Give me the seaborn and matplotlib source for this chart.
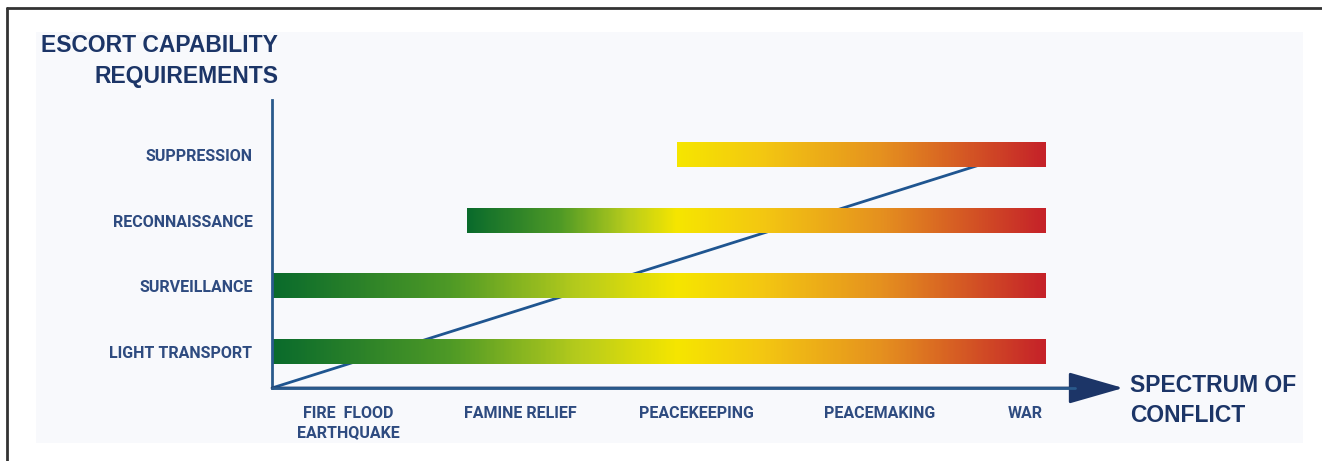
import matplotlib
matplotlib.use("Agg")
import matplotlib.pyplot as plt
import seaborn as sns
import numpy as np
import pandas as pd
from matplotlib.colors import LinearSegmentedColormap
from matplotlib.patches import Rectangle
from matplotlib.lines import Line2D

# capability bars (spectrum units 0..10 along the x axis)
capabilities = ['LIGHT TRANSPORT', 'SURVEILLANCE', 'RECONNAISSANCE', 'SUPPRESSION']
bar_start = [0.0, 0.0, 2.43, 5.04]
bar_end = [9.63, 9.63, 9.63, 9.63]

# spectrum of conflict ticks
conflict_labels = ['FIRE  FLOOD\nEARTHQUAKE', 'FAMINE RELIEF', 'PEACEKEEPING', 'PEACEMAKING', 'WAR']
conflict_pos = [0.95, 3.09, 5.29, 7.57, 9.38]
yellow_at = 5.04  # where bars turn yellow (peacekeeping)

# rising requirement line
trend_x = [0.0, 9.2]
trend_y = [-0.55, 3.0]

navy = '#1c3567'
label_col = '#2e4b80'
axis_col = '#2a5a8c'

sns.set_style('white')
plt.rcParams['font.family'] = ['Roboto', 'DejaVu Sans']

fig = plt.figure(figsize=(13.22, 4.61), dpi=100)
fig.patch.set_facecolor('white')

# pale panel + frame lines
fig.patches.append(Rectangle((36 / 1322, 18 / 461), (1303 - 36) / 1322, (443 - 32) / 461,
                             transform=fig.transFigure, facecolor='#f8f9fc', edgecolor='none', zorder=-5))
fig.lines.append(Line2D([7 / 1322, 1], [1 - 8 / 461, 1 - 8 / 461], transform=fig.transFigure,
                        color='#333333', lw=2, zorder=-4))
fig.lines.append(Line2D([7 / 1322, 7 / 1322], [0, 1 - 8 / 461], transform=fig.transFigure,
                        color='#333333', lw=2, zorder=-4))

ax = fig.add_axes([272 / 1322, 73 / 461, 803 / 1322, 288 / 461])
ax.set_facecolor('none')

cmap = LinearSegmentedColormap.from_list('conflict', [
    (0.0, '#0a6b2c'), (0.22, '#4f9a26'), (0.38, '#b7cc1c'), (0.5, '#f6e600'),
    (0.62, '#f3c612'), (0.78, '#e5901f'), (1.0, '#c52229')])

# diagonal line (behind bars)
df_trend = pd.DataFrame({'x': trend_x, 'y': trend_y})
sns.lineplot(data=df_trend, x='x', y='y', ax=ax, color='#1f5590', lw=2, zorder=1)

bar_h = 0.37
for i, (s, e) in enumerate(zip(bar_start, bar_end)):
    xs = np.linspace(s, e, 400)
    if s < yellow_at:
        t = np.where(xs <= yellow_at, 0.5 * (xs - s) / (yellow_at - s),
                     0.5 + 0.5 * (xs - yellow_at) / (e - yellow_at))
    else:
        t = 0.5 + 0.5 * (xs - s) / (e - s)
    ax.imshow(t[np.newaxis, :], cmap=cmap, vmin=0, vmax=1, aspect='auto',
              extent=[s, e, i - bar_h / 2, i + bar_h / 2], zorder=2, interpolation='bilinear')

ax.set_xlim(0, 10)
ax.set_ylim(-0.55, 3.84)
ax.set_xlabel('')
ax.set_ylabel('')

ax.set_yticks(range(len(capabilities)))
ax.set_yticklabels(capabilities, fontsize=11.5, fontweight='bold', color=label_col)
ax.set_xticks(conflict_pos)
ax.set_xticklabels(conflict_labels, fontsize=11.5, fontweight='bold', color=label_col,
                   linespacing=1.3, va='top')
ax.tick_params(axis='y', length=0, pad=14)
ax.tick_params(axis='x', length=0, pad=13)

for side in ['top', 'right', 'bottom']:
    ax.spines[side].set_visible(False)
ax.spines['left'].set_color(axis_col)
ax.spines['left'].set_linewidth(2)

# x axis with arrow
ax.annotate('', xy=(1.06, 0), xycoords='axes fraction', xytext=(0, 0), textcoords='axes fraction',
            arrowprops=dict(arrowstyle='-|>,head_length=1.15,head_width=0.33', mutation_scale=30,
                            color=navy, lw=2, shrinkA=0, shrinkB=0), annotation_clip=False)
ax.plot([0, 1], [0, 0], transform=ax.transAxes, color=axis_col, lw=2, clip_on=False, zorder=3)

title_kw = dict(fontsize=16.5, fontweight='bold', color=navy, family=['Liberation Sans', 'DejaVu Sans'])
fig.text(278 / 1322, 1 - 45 / 461, 'ESCORT CAPABILITY', ha='right', va='center', **title_kw)
fig.text(278 / 1322, 1 - 76 / 461, 'REQUIREMENTS', ha='right', va='center', **title_kw)
fig.text(1130 / 1322, 1 - 385 / 461, 'SPECTRUM OF', ha='left', va='center', **title_kw)
fig.text(1130 / 1322, 1 - 415 / 461, 'CONFLICT', ha='left', va='center', **title_kw)

fig.savefig('out.png', dpi=100)
